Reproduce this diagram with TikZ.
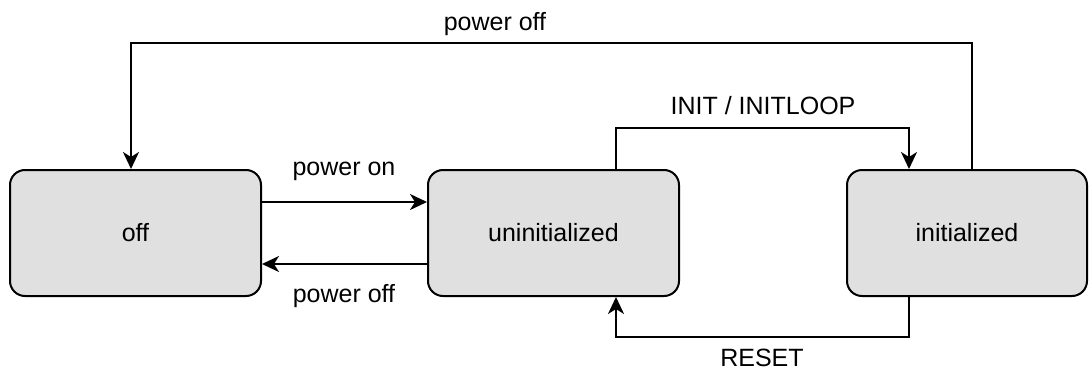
\documentclass[tikz,border=0pt]{standalone}
\usepackage{fontspec}
\setmainfont{Liberation Sans}
\usetikzlibrary{arrows.meta}
\definecolor{statefill}{HTML}{E0E0E0}
\begin{document}
\begin{tikzpicture}[x=0.5pt,y=-0.5pt,
  statebox/.style={draw=black, fill=statefill, line width=1pt, rounded corners=7.5pt,
    minimum width=125.5pt, minimum height=63pt, inner sep=0pt, font=\fontsize{12.5}{14}\selectfont},
  trans/.style={line width=1pt, -{Stealth[length=8.5pt,width=8pt,inset=2.5pt]}},
  lbl/.style={inner sep=0pt, font=\fontsize{12.5}{14}\selectfont}]
  \useasboundingbox (0,0) rectangle (1089,370);

  % states
  \node[statebox] (off)    at (135.5,233) {off};
  \node[statebox] (uninit) at (553.5,233) {uninitialized};
  \node[statebox, minimum width=120pt] (init) at (967,233) {initialized};

  % corner points of the orthogonal routes
  \coordinate (topR) at (972,43);
  \coordinate (topL) at (131,43);
  \coordinate (iniL) at (616,128);
  \coordinate (iniR) at (909,128);
  \coordinate (resR) at (909,337);
  \coordinate (resL) at (616,337);

  % transitions
  \draw[trans] (off.east |- 0,202) -- (uninit.west |- 0,202);
  \draw[trans] (uninit.west |- 0,264) -- (off.east |- 0,264);
  \draw[trans] (init.north -| topR) -- (topR) -- (topL) -- (off.north -| topL);
  \draw[trans] (uninit.north -| iniL) -- (iniL) -- (iniR) -- (init.north -| iniR);
  \draw[trans] (init.south -| resR) -- (resR) -- (resL) -- (uninit.south -| resL);

  % labels
  \node[lbl] (lpon)  at (344,171) {power on};
  \node[lbl] (lpoff) at (344,296) {power off};
  \node[lbl] (ltop)  at (495,24)  {power off};
  \node[lbl] (linit) at (763,106) {INIT / INITLOOP};
  \node[lbl] (lres)  at (762,358) {RESET};
\end{tikzpicture}
\end{document}
